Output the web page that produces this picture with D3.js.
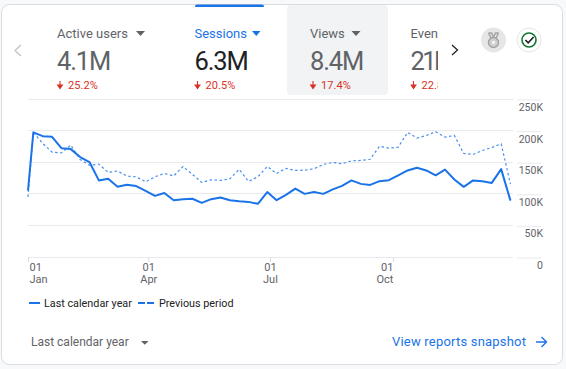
<!DOCTYPE html>
<html>
<head>
<meta charset="utf-8">
<script src="https://cdn.jsdelivr.net/npm/d3@7"></script>
<style>
  html, body { margin: 0; padding: 0; background: #f8f9fa; overflow: hidden; }
  svg { display: block; font-family: Roboto, sans-serif; }
</style>
</head>
<body>
<div class="canvas"></div>
<script>
// values in thousands, first point is 1 Jan, then one point per week
const dayOffsets = [0, 4, 11, 18, 25, 32, 39, 46, 53, 60, 67, 74, 81, 88, 95, 102, 109, 116, 123, 130, 137, 144, 151, 158, 165, 172, 179, 186, 193, 200, 207, 214, 221, 228, 235, 242, 249, 256, 263, 270, 277, 284, 291, 298, 305, 312, 319, 326, 333, 340, 347, 354, 361]
const lastYear = [106, 198, 192, 191, 173, 171.5, 159, 151, 122, 124.5, 112, 115, 113, 105.5, 97.5, 102, 90.7, 92, 93, 86.5, 92.3, 95, 90.7, 89, 88, 85, 103.5, 90.7, 99, 109, 100.7, 103.5, 100.7, 107.7, 113.4, 122, 116.5, 114.8, 120.8, 122.4, 130, 137.7, 142, 137.7, 130, 139, 123.5, 111.8, 122, 120.8, 118, 139.8, 90]
const previous = [96, 198, 180.5, 166.7, 165.6, 177.8, 155, 146, 147.7, 134.6, 137, 128.7, 127.7, 119.7, 127.7, 133, 129, 144, 131.5, 118.8, 123, 122, 124.5, 139.4, 120.4, 127.7, 144, 133, 141, 137.8, 138.2, 140.4, 147.3, 150.4, 148.3, 153, 153.6, 155.5, 176, 173, 174.6, 198, 189, 193, 199, 190.5, 193, 164.7, 163, 169.4, 174, 180, 116]

const yTicks = [0, 50, 100, 150, 200, 250]
const xTickDays = [0, 90, 181, 273]
const xTickLabels = [['01', 'Jan'], ['01', 'Apr'], ['01', 'Jul'], ['01', 'Oct']]

const metricNames = ['Active users', 'Sessions', 'Views', 'Event count']
const metricValues = ['4.1M', '6.3M', '8.4M', '21M']
const metricChanges = ['25.2%', '20.5%', '17.4%', '22.8%']

const blue = '#1a73e8'
const grey = '#5f6368'
const red = '#d93025'

const svg = d3.select('.canvas')
              .append('svg')
              .attr('width', 566)
              .attr('height', 369)

// card
svg.append('rect')
   .attr('x', 1.5).attr('y', 4.5)
   .attr('width', 561).attr('height', 360)
   .attr('rx', 8)
   .attr('fill', '#fff')
   .attr('stroke', '#dadce0')

// tabs
svg.append('rect')
   .attr('x', 287).attr('y', 5)
   .attr('width', 101).attr('height', 90)
   .attr('rx', 4)
   .attr('fill', '#f1f3f4')
svg.append('path')
   .attr('d', 'M195,7V6.5a2,2 0 0 1 2,-2H262a2,2 0 0 1 2,2V7Z')
   .attr('fill', blue)

// last tab is cut off, clip is in the tab's own coordinates
const defs = svg.append('defs')
defs.append('clipPath').attr('id', 'tabClip')
    .append('rect').attr('x', 0).attr('y', 0).attr('width', 27.5).attr('height', 99)

const tabX = [57, 194.5, 310, 410.5]
const tabs = svg.selectAll('.tab')
                .data(metricNames)
                .enter()
                .append('g')
                .attr('class', 'tab')
                .attr('clip-path', (d, i) => i == 3 ? 'url(#tabClip)' : null)
                .attr('transform', (d, i) => `translate(${tabX[i]}, 0)`)

tabs.append('text')
    .attr('y', 38)
    .attr('font-size', 13)
    .attr('fill', (d, i) => i == 1 ? blue : grey)
    .text(d => d)

tabs.append('text')
    .attr('y', 69.5)
    .attr('font-size', 25.5)
    .attr('letter-spacing', (d, i) => i == 3 ? -2.6 : -1.1)
    .attr('fill', (d, i) => i == 1 ? '#202124' : grey)
    .text((d, i) => metricValues[i])

tabs.append('path')
    .attr('d', 'M0,81V87M-2.4,85L0,88.5L2.4,85Z')
    .attr('transform', 'translate(3, 0)')
    .attr('stroke', red)
    .attr('stroke-width', 1.1)
    .attr('fill', red)

tabs.append('text')
    .attr('x', 11)
    .attr('y', 89)
    .attr('font-size', 11)
    .attr('letter-spacing', 0.1)
    .attr('fill', red)
    .text((d, i) => metricChanges[i])

// dropdown triangles on the tabs
const triangle = (x, y, w, h, col) => svg.append('path')
    .attr('d', `M${x},${y}h${w}l${-w / 2},${h}Z`)
    .attr('fill', col)
triangle(136, 31, 9, 5, grey)
triangle(252, 31, 8.5, 5, blue)
triangle(351.5, 31, 9, 5, grey)

// chevrons
svg.append('path').attr('d', 'M21,45L15,50.5L21,56')
   .attr('fill', 'none').attr('stroke', '#bdc1c6').attr('stroke-width', 1.2)
svg.append('path').attr('d', 'M452,45L457.5,50L452,55')
   .attr('fill', 'none').attr('stroke', '#202124').attr('stroke-width', 1.3)

// badges
const medal = svg.append('g').attr('transform', 'translate(493.5, 40)')
medal.append('circle').attr('r', 12.5).attr('fill', '#e6e6e6')
medal.append('path').attr('d', 'M-5,-7L-2,-1M5,-7L2,-1M-5,-7H-2L0,-3L2,-7H5')
     .attr('fill', 'none').attr('stroke', '#a3a3a3').attr('stroke-width', 1.5)
medal.append('circle').attr('cy', 2.5).attr('r', 5)
     .attr('fill', '#d0d0d0').attr('stroke', '#a3a3a3').attr('stroke-width', 1.5)
medal.append('circle').attr('cy', 2.5).attr('r', 1.4).attr('fill', '#fff')

const check = svg.append('g').attr('transform', 'translate(529, 40)')
check.append('circle').attr('r', 12).attr('fill', '#fff').attr('stroke', '#e3e5e8')
check.append('circle').attr('r', 7).attr('fill', 'none').attr('stroke', '#137333').attr('stroke-width', 1.6)
check.append('path').attr('d', 'M-3.6,0L-0.8,2.8L4.6,-3')
     .attr('fill', 'none').attr('stroke', '#202124').attr('stroke-width', 1.7)

// scales
const xScale = d3.scaleLinear()
                 .domain([0, 361])
                 .range([28, 510.5])
const yScale = d3.scaleLinear()
                 .domain([0, 250])
                 .range([257.5, 99.5])

// y axis, gridlines run left of the labels
const yAxis = d3.axisRight(yScale)
                .tickValues(yTicks)
                .tickSize(0)
                .tickFormat(d => d == 0 ? '0' : d + 'K')
const yAxisGroup = svg.append('g')
                      .attr('class', 'y-axis')
                      .attr('transform', 'translate(543, 0)')
                      .call(yAxis)
yAxisGroup.select('.domain').remove()
yAxisGroup.selectAll('text')
          .attr('x', 0)
          .attr('dy', '1.05em')
          .attr('text-anchor', 'end')
          .attr('font-family', 'Roboto, sans-serif')
          .attr('font-size', 10.5)
          .attr('fill', grey)
yAxisGroup.selectAll('.tick').append('line')
          .attr('x1', -26).attr('x2', -2)
          .attr('stroke', '#e8eaed')

svg.append('g')
   .selectAll('line')
   .data(yTicks)
   .enter()
   .append('line')
   .attr('x1', xScale(0))
   .attr('x2', 513)
   .attr('y1', d => Math.round(yScale(d)) - 0.5)
   .attr('y2', d => Math.round(yScale(d)) - 0.5)
   .attr('stroke', '#e8eaed')
   .attr('stroke-width', 1)

// x axis
const xAxis = d3.axisBottom(xScale)
                .tickValues(xTickDays)
                .tickSize(5)
                .tickFormat('')
const xAxisGroup = svg.append('g')
                      .attr('class', 'x-axis')
                      .attr('transform', 'translate(0, 257)')
                      .call(xAxis)
xAxisGroup.select('.domain').remove()
xAxisGroup.selectAll('line').attr('stroke', '#dadce0')
const xAnchor = ['start', 'middle', 'middle', 'end']
const xNudge = [1, 0, 0, 0]
xAxisGroup.selectAll('text')
          .attr('text-anchor', (d, i) => xAnchor[i])
          .attr('font-family', 'Roboto, sans-serif')
          .attr('font-size', 11)
          .attr('fill', grey)
          .attr('y', 14)
          .attr('dy', 0)
          .each(function(d, i){
              const label = d3.select(this)
              xTickLabels[i].forEach((t, j) => {
                  label.append('tspan')
                       .attr('x', xNudge[i])
                       .attr('y', 14 + j * 11.5)
                       .text(t)
              })
          })

// lines
const line = d3.line()
               .x((d, i) => xScale(dayOffsets[i]))
               .y(d => yScale(d))

svg.append('path')
   .datum(previous)
   .attr('fill', 'none')
   .attr('stroke', blue)
   .attr('stroke-opacity', 0.8)
   .attr('stroke-width', 1.2)
   .attr('stroke-dasharray', '2.5 2.5')
   .attr('d', line)

svg.append('path')
   .datum(lastYear)
   .attr('fill', 'none')
   .attr('stroke', blue)
   .attr('stroke-width', 2)
   .attr('stroke-linejoin', 'round')
   .attr('d', line)

// legend
svg.append('line')
   .attr('x1', 29).attr('x2', 40).attr('y1', 303).attr('y2', 303)
   .attr('stroke', blue).attr('stroke-width', 2)
svg.append('line')
   .attr('x1', 138).attr('x2', 154).attr('y1', 303).attr('y2', 303)
   .attr('stroke', blue).attr('stroke-width', 2).attr('stroke-dasharray', '7 2')
svg.append('text')
   .attr('x', 44).attr('y', 307)
   .attr('font-size', 10.8).attr('fill', '#202124')
   .text('Last calendar year')
svg.append('text')
   .attr('x', 159).attr('y', 307)
   .attr('font-size', 10.8).attr('fill', '#202124')
   .text('Previous period')

// footer
svg.append('text')
   .attr('x', 31).attr('y', 346)
   .attr('font-size', 12).attr('fill', grey)
   .text('Last calendar year')
triangle(141, 341, 7.5, 3.8, grey)
svg.append('text')
   .attr('x', 392).attr('y', 346)
   .attr('font-size', 13).attr('letter-spacing', 0.2).attr('fill', blue)
   .text('View reports snapshot')
svg.append('path')
   .attr('d', 'M536,342H546.5M541.5,337L546.5,342L541.5,347')
   .attr('fill', 'none').attr('stroke', blue).attr('stroke-width', 1.4)
</script>
</body>
</html>
